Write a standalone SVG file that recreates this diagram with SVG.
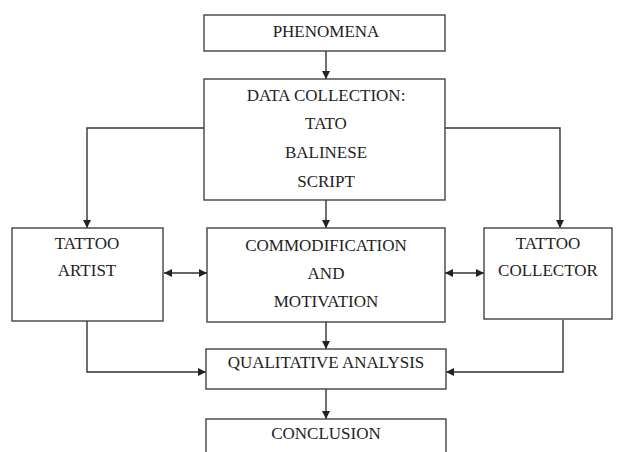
<svg xmlns="http://www.w3.org/2000/svg" width="624" height="452" viewBox="0 0 624 452">
<defs>
<marker id="ah" viewBox="0 0 10 10" refX="10" refY="5" markerWidth="8" markerHeight="8" markerUnits="userSpaceOnUse" orient="auto-start-reverse">
<path d="M0,0 L10,5 L0,10 z" fill="#222"/>
</marker>
<style>
.box{fill:#fff;stroke:#444;stroke-width:1.4}
.t{font-family:"Liberation Serif","Times New Roman",serif;font-size:17px;fill:#222;text-anchor:middle}
.c{fill:none;stroke:#333;stroke-width:1.4}
</style>
</defs>
<rect width="624" height="452" fill="#fff"/>
<g id="connectors">
<path class="c" d="M326,51 V79" marker-end="url(#ah)"/>
<path class="c" d="M204,128 H87 V228" marker-end="url(#ah)"/>
<path class="c" d="M445,128 H560 V228" marker-end="url(#ah)"/>
<path class="c" d="M326,200 V228" marker-end="url(#ah)"/>
<path class="c" d="M164,273 H207" marker-start="url(#ah)" marker-end="url(#ah)"/>
<path class="c" d="M445,273 H484" marker-start="url(#ah)" marker-end="url(#ah)"/>
<path class="c" d="M326,322 V349" marker-end="url(#ah)"/>
<path class="c" d="M87,321 V372 H206" marker-end="url(#ah)"/>
<path class="c" d="M563,320 V372 H446" marker-end="url(#ah)"/>
<path class="c" d="M326,389 V419" marker-end="url(#ah)"/>
</g>
<g id="phenomena">
<rect class="box" x="204" y="15" width="241" height="36"/>
<text class="t" x="326" y="37">PHENOMENA</text>
</g>
<g id="data-collection">
<rect class="box" x="204" y="79" width="241" height="121"/>
<text class="t" x="326" y="101">DATA COLLECTION:</text>
<text class="t" x="326" y="129">TATO</text>
<text class="t" x="326" y="158">BALINESE</text>
<text class="t" x="326" y="187">SCRIPT</text>
</g>
<g id="tattoo-artist">
<rect class="box" x="12" y="228" width="151" height="93"/>
<text class="t" x="87" y="249">TATTOO</text>
<text class="t" x="87" y="276">ARTIST</text>
</g>
<g id="commodification">
<rect class="box" x="207" y="228" width="238" height="94"/>
<text class="t" x="326" y="251">COMMODIFICATION</text>
<text class="t" x="326" y="279">AND</text>
<text class="t" x="326" y="307">MOTIVATION</text>
</g>
<g id="tattoo-collector">
<rect class="box" x="484" y="228" width="128" height="91"/>
<text class="t" x="548" y="249">TATTOO</text>
<text class="t" x="548" y="276">COLLECTOR</text>
</g>
<g id="qualitative-analysis">
<rect class="box" x="206" y="349" width="240" height="40"/>
<text class="t" x="326" y="368">QUALITATIVE ANALYSIS</text>
</g>
<g id="conclusion">
<rect class="box" x="206" y="419" width="240" height="50"/>
<text class="t" x="326" y="439">CONCLUSION</text>
</g>
</svg>
